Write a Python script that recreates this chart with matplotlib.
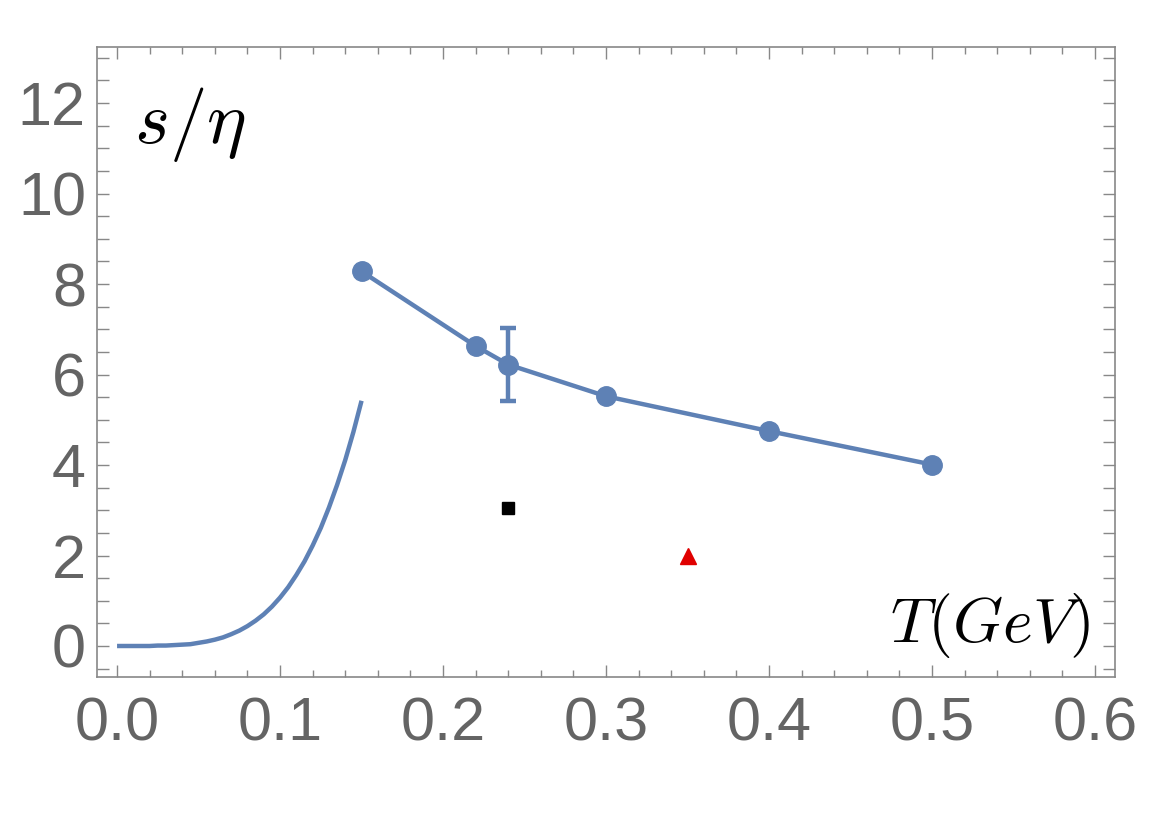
import matplotlib
matplotlib.use("Agg")
import matplotlib.pyplot as plt
from matplotlib.ticker import MultipleLocator

plt.rcParams["font.family"] = ["Liberation Sans", "DejaVu Sans"]
plt.rcParams["mathtext.fontset"] = "cm"

# lattice-style points with one error bar
temps = [0.15, 0.22, 0.24, 0.30, 0.40, 0.50]
ratio = [8.28, 6.63, 6.22, 5.52, 4.75, 4.01]
err_t = 0.24
err_val = 6.22
err_lo = 5.42
err_hi = 7.03

# low temperature curve
curve_t = [0.000, 0.010, 0.020, 0.025, 0.030, 0.035, 0.040, 0.045,
           0.050, 0.055, 0.060, 0.065, 0.070, 0.075, 0.080, 0.085,
           0.090, 0.095, 0.100, 0.105, 0.110, 0.115, 0.120, 0.125,
           0.130, 0.135, 0.140, 0.145, 0.150]
curve_val = [0.00, 0.00, 0.00, 0.01, 0.01, 0.02, 0.03, 0.04,
             0.07, 0.10, 0.14, 0.19, 0.26, 0.34, 0.44, 0.56,
             0.70, 0.87, 1.07, 1.30, 1.57, 1.87, 2.22, 2.61,
             3.06, 3.56, 4.11, 4.73, 5.42]

# single extra points
square_pt = (0.24, 3.05)
triangle_pt = (0.35, 2.00)

blue = "#5E81B5"
gray = "#646464"
spine_gray = "#888888"

fig = plt.figure(figsize=(11.73, 8.39), dpi=100)
ax = fig.add_axes([0.0827, 0.1931, 0.8679, 0.7509])

ax.plot(curve_t, curve_val, color=blue, lw=3.2, solid_capstyle="butt",
        solid_joinstyle="round")
ax.plot(temps, ratio, color=blue, lw=3.2, marker="o", markersize=14)
ax.errorbar([err_t], [err_val], yerr=[[err_val - err_lo], [err_hi - err_val]],
            fmt="none", ecolor=blue, elinewidth=3.2, capsize=6, capthick=3.2)
ax.plot([square_pt[0]], [square_pt[1]], marker="s", color="black",
        markersize=9, linestyle="none")
ax.plot([triangle_pt[0]], [triangle_pt[1]], marker="^", color="#E00000",
        markersize=11, linestyle="none")

ax.set_xlim(-0.0123, 0.6123)
ax.set_ylim(-0.685, 13.24)
ax.xaxis.set_major_locator(MultipleLocator(0.1))
ax.xaxis.set_minor_locator(MultipleLocator(0.02))
ax.yaxis.set_major_locator(MultipleLocator(2))
ax.yaxis.set_minor_locator(MultipleLocator(0.5))
ax.set_xticks([0.0, 0.1, 0.2, 0.3, 0.4, 0.5, 0.6])
ax.set_xticklabels(["0.0", "0.1", "0.2", "0.3", "0.4", "0.5", "0.6"])
ax.set_yticks([0, 2, 4, 6, 8, 10, 12])

for side in ax.spines.values():
    side.set_color(spine_gray)
    side.set_linewidth(1.2)

ax.tick_params(which="both", direction="in", top=True, right=True,
               color=spine_gray, width=1.0, labelcolor=gray, labelsize=44)
ax.tick_params(axis="x", which="major", length=8.5, pad=14)
ax.tick_params(axis="x", which="minor", length=5)
ax.tick_params(axis="y", which="both", length=8.5, pad=8)

ax.text(0.036, 0.848, r"$s/\eta$", transform=ax.transAxes,
        fontsize=54, ha="left", va="baseline", color="black")
ax.text(0.975, 0.0556, r"$T(GeV)$", transform=ax.transAxes,
        fontsize=46, ha="right", va="baseline", color="black")

fig.savefig("out.png", dpi=100)
